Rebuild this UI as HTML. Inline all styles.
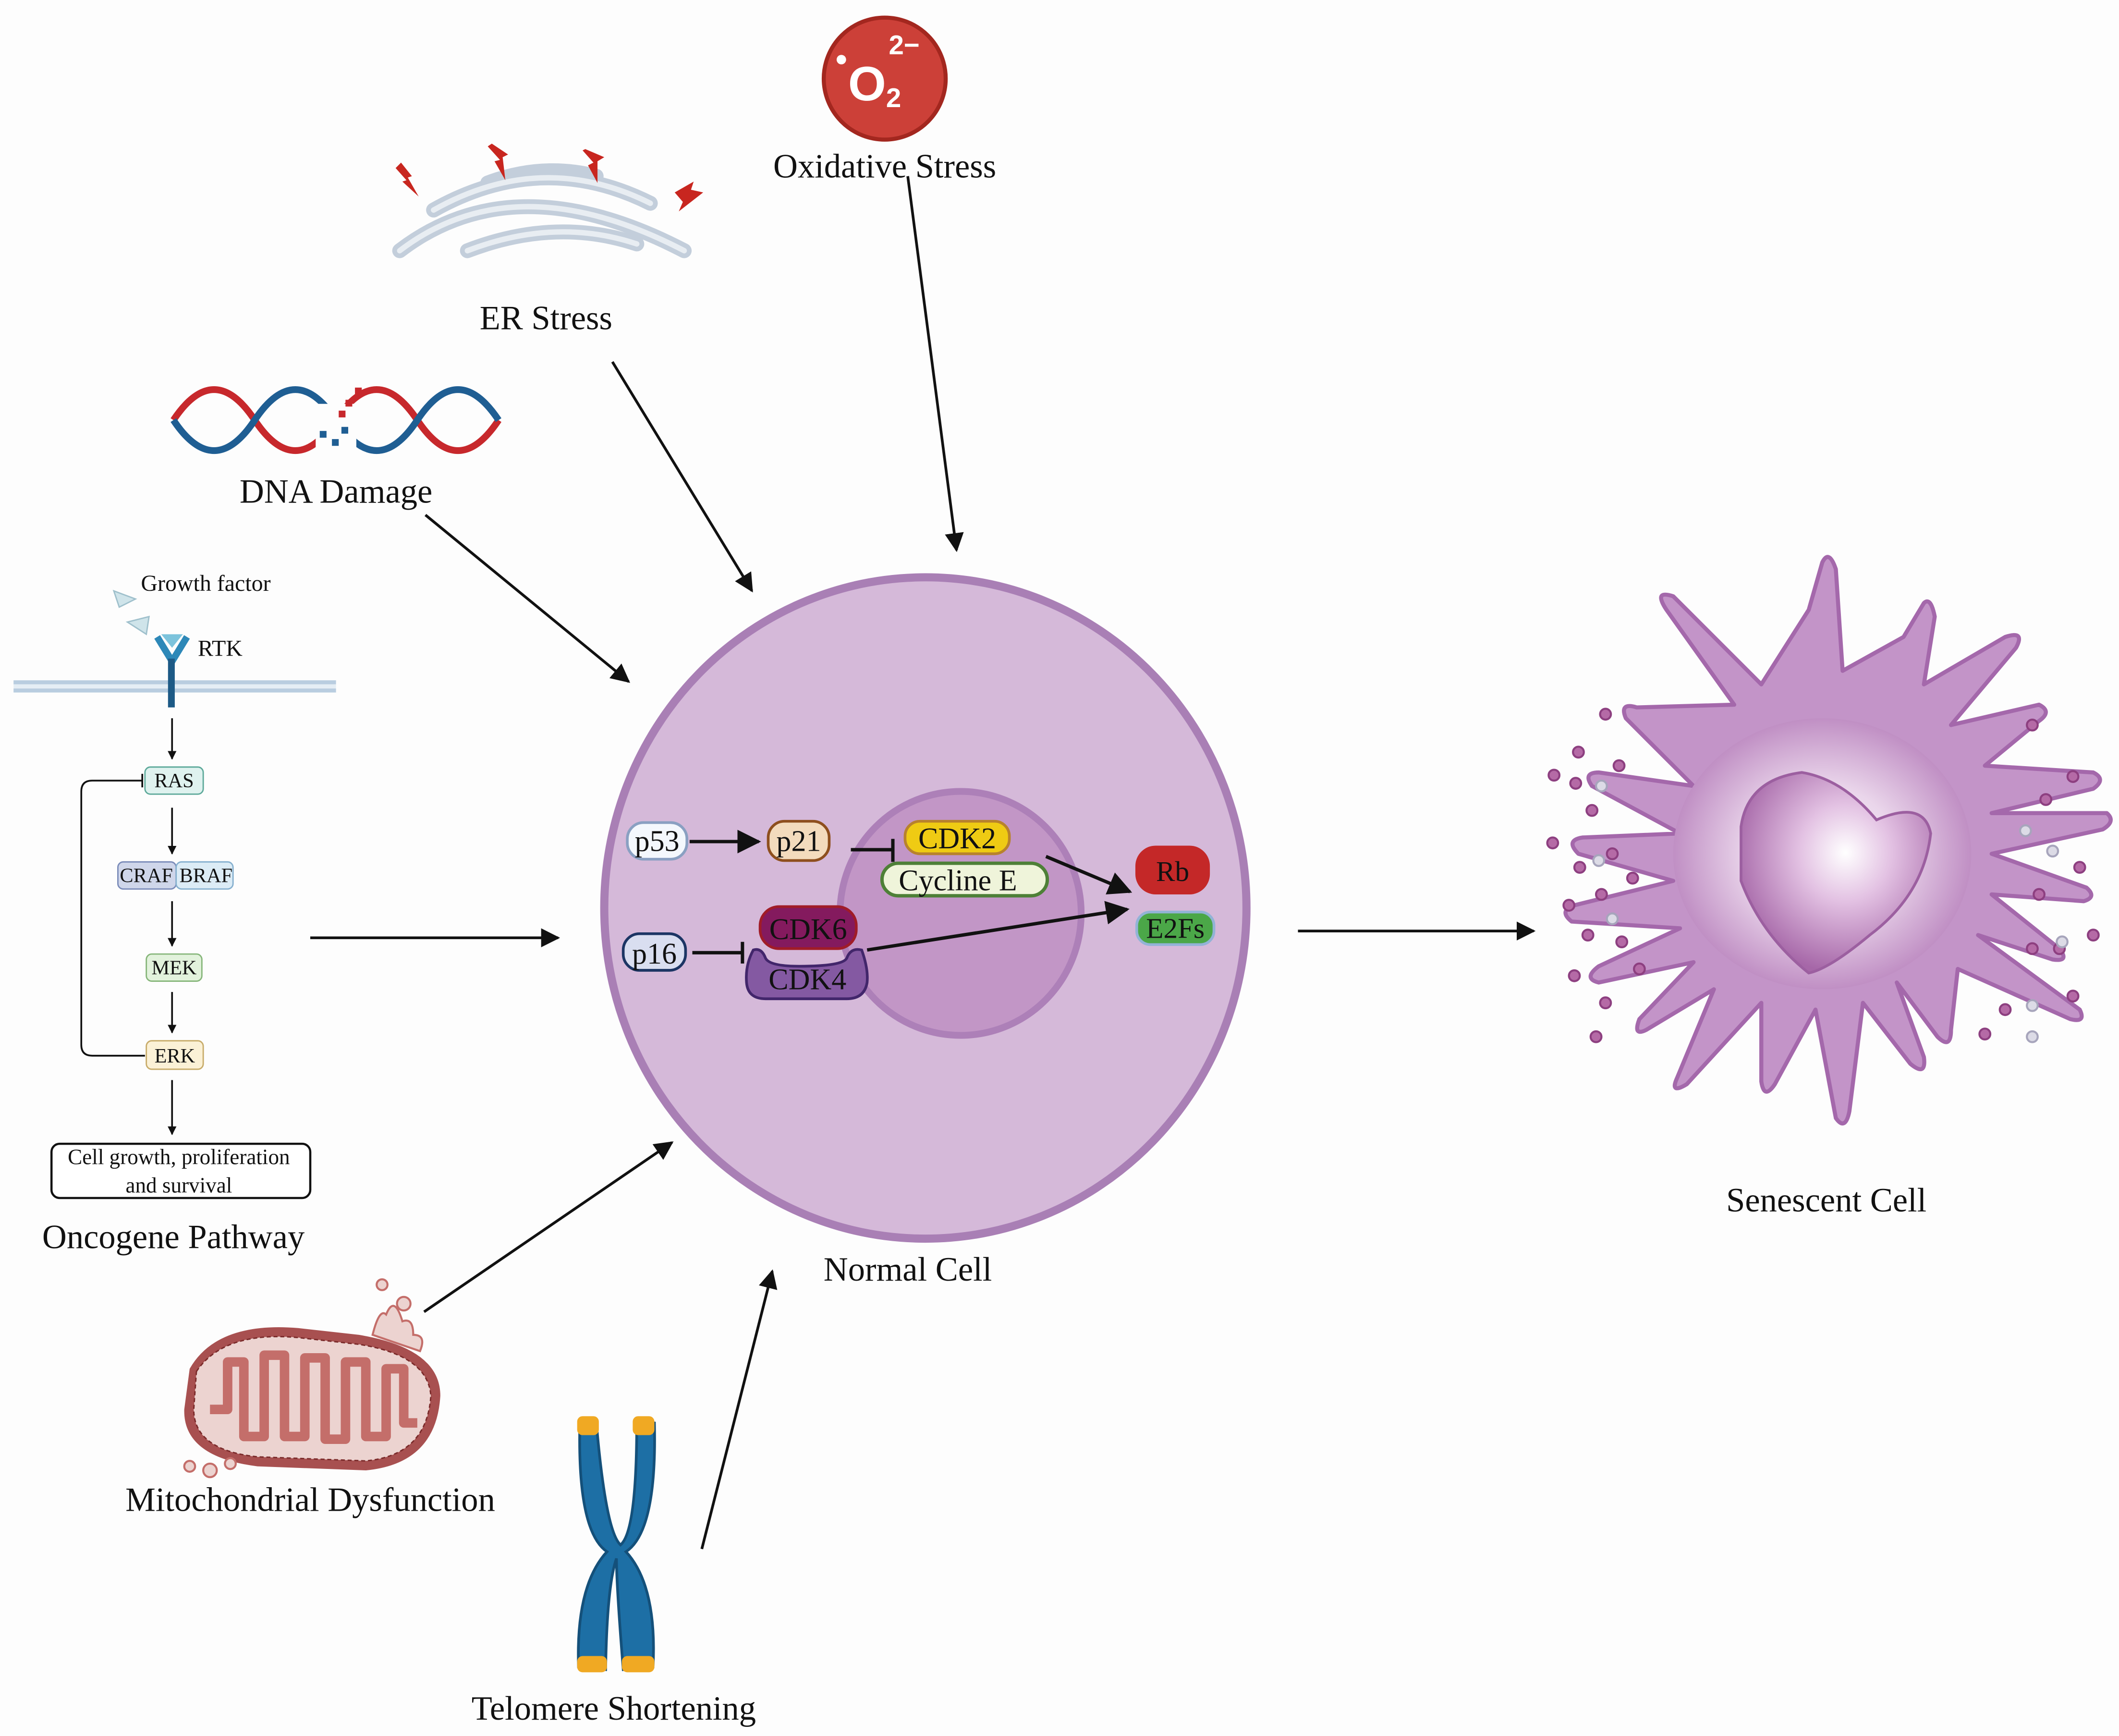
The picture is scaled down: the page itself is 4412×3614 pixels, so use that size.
<!DOCTYPE html>
<html><head><meta charset="utf-8"><style>
html,body{margin:0;padding:0;background:#fdfdfd;}
svg{display:block;}
text{font-family:"Liberation Serif",serif;fill:#111;}
text.s{font-family:"Liberation Sans",sans-serif;font-weight:bold;fill:#fff;}
</style></head><body>
<svg width="4412" height="3614" viewBox="0 0 1564 1281" preserveAspectRatio="none" xmlns="http://www.w3.org/2000/svg">
<defs>
<marker id="ah" viewBox="0 0 10 10" refX="9" refY="5" markerWidth="7" markerHeight="7" orient="auto"><path d="M0,0 L10,5 L0,10 z" fill="#111"/></marker>
<marker id="ahs" viewBox="0 0 10 10" refX="9" refY="5" markerWidth="5" markerHeight="5" orient="auto"><path d="M0,0 L10,5 L0,10 z" fill="#111"/></marker>
<radialGradient id="sg" cx="50%" cy="50%" r="50%"><stop offset="0" stop-color="#fbf4fb"/><stop offset="0.5" stop-color="#ead6eb"/><stop offset="1" stop-color="#c08fc4"/></radialGradient>
<radialGradient id="sn" cx="55%" cy="40%" r="60%"><stop offset="0" stop-color="#ffffff"/><stop offset="0.4" stop-color="#e3c2e3"/><stop offset="1" stop-color="#a667a8"/></radialGradient>
</defs>
<rect width="1564" height="1281" fill="#fdfdfd"/>

<!-- O2 -->
<circle cx="653" cy="58" r="45" fill="#cc4038" stroke="#a3271f" stroke-width="3"/>
<circle cx="621" cy="44" r="3.5" fill="#fff"/>
<text class="s" x="626" y="74" font-size="36">O</text>
<text class="s" x="654" y="79" font-size="20">2</text>
<text class="s" x="656" y="40" font-size="20">2−</text>
<text x="653" y="131" font-size="25" text-anchor="middle">Oxidative Stress</text>

<!-- ER -->
<g fill="none" stroke="#c3cedb" stroke-width="11" stroke-linecap="round">
<path d="M295,185 Q380,120 505,185"/>
<path d="M320,155 Q400,110 480,150"/>
<path d="M345,185 Q410,160 470,180"/>
<path d="M360,135 Q400,120 440,130"/>
</g>
<g fill="none" stroke="#e8edf2" stroke-width="4" stroke-linecap="round">
<path d="M295,185 Q380,120 505,185"/>
<path d="M320,155 Q400,110 480,150"/>
<path d="M345,185 Q410,160 470,180"/>
</g>
<g fill="#c8261f">
<path d="M296,120 l8,10 l-3,1 l8,14 l-12,-11 l3,-1 l-8,-9z"/>
<path d="M363,106 l12,8 l-4,2 l2,17 l-8,-14 l4,-1 l-9,-10z"/>
<path d="M432,110 l14,6 l-5,3 l0,16 l-7,-13 l4,-2 l-8,-9z"/>
<path d="M498,142 l14,-8 l-2,6 l9,2 l-18,14 l3,-7 l-6,-7z"/>
</g>
<text x="403" y="243" font-size="25" text-anchor="middle">ER Stress</text>

<!-- DNA -->
<g fill="none" stroke-width="5">
<path d="M128,310 C148,280 168,280 188,310 S228,340 248,310 S288,280 308,310 S348,340 368,310" stroke="#c7282c"/>
<path d="M128,310 C148,340 168,340 188,310 S228,280 248,310 S288,340 308,310 S348,280 368,310" stroke="#1f5e93"/>
</g>
<rect x="233" y="298" width="30" height="32" fill="#fdfdfd"/>
<g fill="#1f5e93"><rect x="236" y="318" width="5" height="5"/><rect x="245" y="324" width="5" height="5"/><rect x="252" y="315" width="5" height="5"/></g>
<g fill="#c7282c"><rect x="255" y="295" width="5" height="5"/><rect x="262" y="286" width="5" height="5"/><rect x="250" y="303" width="5" height="5"/></g>
<text x="248" y="371" font-size="25" text-anchor="middle">DNA Damage</text>

<!-- Oncogene pathway -->
<polygon points="84,436 100,442 88,448" fill="#cfe4ea" stroke="#9fc0cc"/>
<polygon points="94,459 110,455 108,468" fill="#cfe4ea" stroke="#9fc0cc"/>
<text x="104" y="436" font-size="17">Growth factor</text>
<rect x="10" y="502" width="238" height="3" fill="#b9cde0"/>
<rect x="10" y="508" width="238" height="3" fill="#b9cde0"/>
<rect x="10" y="505" width="238" height="3" fill="#e5eef5"/>
<path d="M116,470 L127,488 L138,470" fill="none" stroke="#2d88b8" stroke-width="5"/>
<polygon points="119,468 135,468 127,478" fill="#7cc3dc"/>
<rect x="124" y="486" width="5" height="36" fill="#1d5a86"/>
<text x="146" y="484" font-size="17">RTK</text>
<g stroke="#111" stroke-width="1.3" fill="none">
<line x1="127" y1="530" x2="127" y2="560" marker-end="url(#ahs)"/>
<line x1="127" y1="596" x2="127" y2="630" marker-end="url(#ahs)"/>
<line x1="127" y1="665" x2="127" y2="698" marker-end="url(#ahs)"/>
<line x1="127" y1="732" x2="127" y2="762" marker-end="url(#ahs)"/>
<line x1="127" y1="797" x2="127" y2="837" marker-end="url(#ahs)"/>
<path d="M107,779 L68,779 Q60,779 60,771 L60,584 Q60,576 68,576 L105,576"/>
<line x1="105" y1="571" x2="105" y2="581"/>
</g>
<rect x="107" y="566" width="43" height="20" rx="4" fill="#dff2ef" stroke="#5da99a"/>
<text x="128.5" y="581" font-size="15" text-anchor="middle">RAS</text>
<rect x="87" y="636" width="43" height="20" rx="4" fill="#cfd6ea" stroke="#7a8bb9"/>
<rect x="130" y="636" width="42" height="20" rx="4" fill="#dcecf6" stroke="#86b0cf"/>
<text x="108" y="651" font-size="15" text-anchor="middle">CRAF</text>
<text x="152" y="651" font-size="15" text-anchor="middle">BRAF</text>
<rect x="108" y="704" width="41" height="20" rx="4" fill="#e2f2dc" stroke="#86b67a"/>
<text x="128.5" y="719" font-size="15" text-anchor="middle">MEK</text>
<rect x="108" y="768" width="42" height="21" rx="4" fill="#fbf1d6" stroke="#c8ac6a"/>
<text x="129" y="784" font-size="15" text-anchor="middle">ERK</text>
<rect x="38" y="844" width="191" height="40" rx="6" fill="#fff" stroke="#111" stroke-width="1.6"/>
<text x="132" y="859" font-size="16" text-anchor="middle">Cell growth, proliferation</text>
<text x="132" y="880" font-size="16" text-anchor="middle">and survival</text>
<text x="128" y="921" font-size="25" text-anchor="middle">Oncogene Pathway</text>

<!-- Mitochondrion -->
<path d="M140,1010 Q160,975 220,980 L265,985 Q325,995 325,1030 Q322,1080 270,1085 L190,1082 Q135,1075 136,1040 Z" fill="#a85050"/>
<path d="M145,1012 Q165,982 220,987 L265,992 Q316,1000 318,1030 Q315,1074 270,1078 L190,1075 Q143,1070 143,1040 Z" fill="#ecd3d0" stroke="#7a2a2a" stroke-dasharray="3,2"/>
<g fill="none" stroke="#c46e6a" stroke-width="7" stroke-linejoin="round">
<path d="M155,1040 L168,1040 L168,1005 L180,1005 L180,1060 L195,1060 L195,1000 L210,1000 L210,1060 L225,1060 L225,1002 L240,1002 L240,1062 L255,1062 L255,1005 L270,1005 L270,1060 L285,1060 L285,1010 L298,1010 L298,1050 L308,1050"/>
</g>
<g fill="#ecd3d0" stroke="#c46e6a" stroke-width="1.5">
<path d="M275,985 q5,-20 10,-15 q6,-15 12,5 q8,-3 8,10 q10,0 5,12z"/>
<circle cx="282" cy="948" r="4"/><circle cx="298" cy="962" r="5"/>
<circle cx="140" cy="1082" r="4"/><circle cx="155" cy="1085" r="5"/><circle cx="170" cy="1080" r="4"/>
</g>
<text x="229" y="1115" font-size="25" text-anchor="middle">Mitochondrial Dysfunction</text>

<!-- Chromosome -->
<path d="M428,1050 L440,1048 Q447,1130 458,1140 Q470,1130 470,1048 L483,1050 Q485,1130 462,1145 Q485,1170 482,1230 L460,1232 Q455,1170 455,1150 Q448,1170 447,1232 L427,1230 Q425,1170 448,1145 Q426,1130 428,1050Z" fill="#1d6fa5" stroke="#14507a" stroke-width="2"/>
<rect x="426" y="1045" width="16" height="14" rx="4" fill="#f0a923"/>
<rect x="467" y="1045" width="16" height="14" rx="4" fill="#f0a923"/>
<rect x="426" y="1222" width="22" height="12" rx="4" fill="#f0a923"/>
<rect x="459" y="1222" width="24" height="12" rx="4" fill="#f0a923"/>
<text x="453" y="1269" font-size="25" text-anchor="middle">Telomere Shortening</text>

<!-- Normal cell -->
<ellipse cx="683" cy="670" rx="237" ry="244" fill="#d5b9d9" stroke="#a97fb5" stroke-width="6"/>
<ellipse cx="709" cy="674" rx="89" ry="90" fill="#c296c6" stroke="#ad80b8" stroke-width="5"/>
<text x="670" y="945" font-size="25" text-anchor="middle">Normal Cell</text>

<!-- proteins -->
<rect x="463" y="607" width="44" height="27" rx="12" fill="#f4f8fd" stroke="#8aa0c2" stroke-width="2"/>
<text x="485" y="628" font-size="22" text-anchor="middle">p53</text>
<rect x="567" y="606" width="45" height="29" rx="12" fill="#f3dbbd" stroke="#8e4f1e" stroke-width="2"/>
<text x="589.5" y="628" font-size="22" text-anchor="middle">p21</text>
<rect x="668" y="606" width="77" height="24" rx="11" fill="#efcb13" stroke="#b8822c" stroke-width="2"/>
<text x="706.5" y="626" font-size="22" text-anchor="middle">CDK2</text>
<rect x="651" y="637" width="122" height="24" rx="12" fill="#eff4da" stroke="#4e8037" stroke-width="2.5"/>
<text x="707" y="657" font-size="22" text-anchor="middle">Cycline E</text>
<rect x="838" y="624" width="55" height="36" rx="15" fill="#c42828"/>
<text x="865.5" y="650" font-size="21" text-anchor="middle">Rb</text>
<rect x="839" y="673" width="57" height="24" rx="10" fill="#4ba748" stroke="#92b3d6" stroke-width="2"/>
<text x="867.5" y="692" font-size="21" text-anchor="middle">E2Fs</text>
<rect x="561" y="669" width="71" height="31" rx="14" fill="#841a5e" stroke="#a01c28" stroke-width="2"/>
<text x="596.5" y="693" font-size="22" text-anchor="middle">CDK6</text>
<path d="M556,701 Q562,699 565,707 Q568,713 590,713 Q622,713 625,707 Q628,699 636,701 Q641,715 640,725 Q638,737 625,737 L565,737 Q552,737 551,725 Q550,712 556,701Z" fill="#8459a2" stroke="#42266b" stroke-width="2"/>
<text x="596" y="730" font-size="22" text-anchor="middle">CDK4</text>
<rect x="460" y="689" width="46" height="27" rx="12" fill="#d9def0" stroke="#1c3564" stroke-width="2"/>
<text x="483" y="711" font-size="22" text-anchor="middle">p16</text>

<g stroke="#111" stroke-width="2.5" fill="none">
<line x1="509" y1="621" x2="560" y2="621" marker-end="url(#ah)"/>
<line x1="628" y1="627" x2="659" y2="627"/><line x1="659" y1="619" x2="659" y2="636"/>
<line x1="772" y1="632" x2="834" y2="658" marker-end="url(#ah)"/>
<line x1="511" y1="703" x2="548" y2="703"/><line x1="548" y1="695" x2="548" y2="711"/>
<line x1="640" y1="701" x2="832" y2="671" marker-end="url(#ah)"/>
</g>

<!-- Input arrows -->
<g stroke="#111" stroke-width="2" fill="none">
<line x1="670" y1="130" x2="706" y2="406" marker-end="url(#ah)"/>
<line x1="452" y1="267" x2="555" y2="436" marker-end="url(#ah)"/>
<line x1="314" y1="380" x2="464" y2="503" marker-end="url(#ah)"/>
<line x1="229" y1="692" x2="412" y2="692" marker-end="url(#ah)"/>
<line x1="313" y1="968" x2="496" y2="843" marker-end="url(#ah)"/>
<line x1="518" y1="1143" x2="570" y2="938" marker-end="url(#ah)"/>
<line x1="958" y1="687" x2="1132" y2="687" marker-end="url(#ah)"/>
</g>

<!-- Senescent cell -->
<g fill="#c394c8" stroke="#a468ab" stroke-width="3" stroke-linejoin="round">
<path d="M1280,520 L1230,450 Q1220,435 1235,440 L1300,505 L1335,450 L1345,415 Q1350,405 1355,420 L1360,495 L1405,470 L1420,445 Q1425,440 1428,455 L1420,505 L1480,470 Q1495,465 1488,478 L1440,535 L1505,520 Q1515,525 1505,532 L1465,565 L1545,570 Q1555,575 1545,582 L1470,600 L1555,600 Q1562,606 1552,612 L1470,630 L1540,655 Q1548,662 1538,665 L1470,660 L1520,700 Q1528,710 1515,708 L1460,690 L1535,745 Q1540,755 1528,752 L1445,715 L1440,760 Q1440,775 1430,765 L1400,725 L1420,780 Q1422,795 1410,785 L1375,740 L1365,820 Q1362,835 1355,825 L1340,745 L1310,800 Q1302,812 1300,798 L1300,740 L1245,800 Q1232,808 1238,795 L1265,730 L1215,760 Q1205,765 1210,752 L1250,710 L1180,725 Q1168,722 1180,713 L1240,685 L1160,680 Q1150,672 1162,668 L1235,650 L1165,630 Q1155,620 1168,618 L1240,615 L1175,580 Q1168,570 1180,570 L1250,580 L1200,530 Q1195,518 1208,522 Z"/>
</g>
<ellipse cx="1345" cy="630" rx="110" ry="100" fill="url(#sg)"/>
<path d="M1285,610 Q1290,575 1330,570 Q1360,575 1385,605 Q1420,590 1425,615 Q1420,660 1380,690 Q1350,715 1335,718 Q1300,690 1285,650 Z" fill="url(#sn)" stroke="#9c5fa0" stroke-width="2"/>
<g fill="#b56aa6" stroke="#8d3f80" stroke-width="1.5">
<circle cx="1185" cy="527" r="4"/><circle cx="1165" cy="555" r="4"/><circle cx="1147" cy="572" r="4"/><circle cx="1163" cy="578" r="4"/><circle cx="1195" cy="565" r="4"/><circle cx="1175" cy="598" r="4"/><circle cx="1146" cy="622" r="4"/><circle cx="1166" cy="640" r="4"/><circle cx="1190" cy="630" r="4"/><circle cx="1158" cy="668" r="4"/><circle cx="1182" cy="660" r="4"/><circle cx="1205" cy="648" r="4"/><circle cx="1172" cy="690" r="4"/><circle cx="1197" cy="695" r="4"/><circle cx="1162" cy="720" r="4"/><circle cx="1185" cy="740" r="4"/><circle cx="1210" cy="715" r="4"/><circle cx="1178" cy="765" r="4"/>
<circle cx="1500" cy="535" r="4"/><circle cx="1530" cy="573" r="4"/><circle cx="1510" cy="590" r="4"/><circle cx="1535" cy="640" r="4"/><circle cx="1505" cy="660" r="4"/><circle cx="1545" cy="690" r="4"/><circle cx="1500" cy="700" r="4"/><circle cx="1530" cy="735" r="4"/><circle cx="1480" cy="745" r="4"/><circle cx="1465" cy="763" r="4"/><circle cx="1520" cy="700" r="4"/>
</g>
<g fill="#dcdbe6" stroke="#a7a5bc" stroke-width="1.5">
<circle cx="1182" cy="580" r="4"/><circle cx="1180" cy="635" r="4"/><circle cx="1190" cy="678" r="4"/><circle cx="1515" cy="628" r="4"/><circle cx="1522" cy="695" r="4"/><circle cx="1500" cy="742" r="4"/><circle cx="1500" cy="765" r="4"/><circle cx="1495" cy="613" r="4"/>
</g>
<text x="1348" y="894" font-size="25" text-anchor="middle">Senescent Cell</text>
</svg>
</body></html>
